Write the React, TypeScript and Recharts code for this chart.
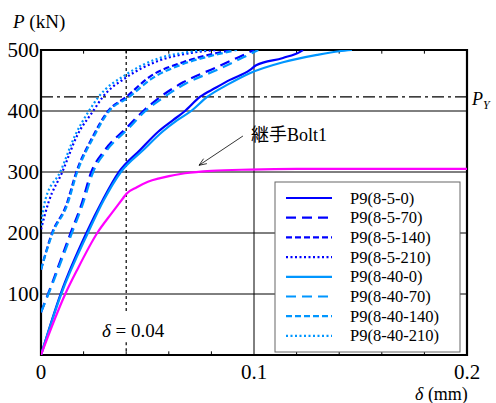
import { LineChart, Line, XAxis, YAxis, CartesianGrid, ReferenceLine, ReferenceArea } from 'recharts';

const deltaTicks = [0, 0.1, 0.2];
const loadTicks = [0, 100, 200, 300, 400, 500];
const minorDeltaTicks = [0.02, 0.04, 0.06, 0.08, 0.12, 0.14, 0.16, 0.18];
const yieldLoad = 423;
const markDelta = 0.04;

// [delta (mm), P (kN)]
const p85_0: [number, number][] = [
  [0, 0], [0.0092, 100], [0.0213, 200], [0.029, 254], [0.0366, 300], [0.0465, 336], [0.055, 366],
  [0.062, 385], [0.0676, 400], [0.0746, 423], [0.082, 438], [0.0887, 451], [0.098, 467], [0.101, 475],
  [0.1136, 487], [0.1216, 497], [0.123, 500],
];
const p85_70: [number, number][] = [
  [0, 70], [0.0033, 100], [0.0139, 200], [0.0189, 246], [0.0236, 300], [0.03, 336], [0.04, 372],
  [0.048, 400], [0.056, 423], [0.0667, 447], [0.0826, 472], [0.092, 487], [0.1, 500],
];
const p85_140: [number, number][] = [
  [0, 140], [0.0052, 200], [0.0119, 246], [0.0166, 300], [0.024, 356], [0.0315, 400], [0.04, 423],
  [0.051, 456], [0.0667, 480], [0.0826, 495], [0.09, 500],
];
const p85_210: [number, number][] = [
  [0, 206], [0.0035, 250], [0.01, 300], [0.017, 360], [0.0245, 400], [0.029, 423], [0.04, 455],
  [0.055, 482], [0.07, 495], [0.082, 500],
];
const p840_0: [number, number][] = [
  [0, 0], [0.0095, 100], [0.022, 200], [0.0295, 254], [0.0375, 300], [0.048, 336], [0.057, 366],
  [0.064, 385], [0.0705, 400], [0.078, 423], [0.088, 444], [0.098, 462], [0.1136, 480], [0.1296, 492],
  [0.14, 498], [0.146, 500],
];
const p840_70: [number, number][] = [
  [0, 70], [0.0035, 100], [0.0145, 200], [0.0195, 246], [0.0245, 300], [0.031, 336], [0.041, 371],
  [0.049, 400], [0.057, 421], [0.068, 445], [0.083, 468], [0.095, 488], [0.102, 500],
];
const p840_140: [number, number][] = [
  [0, 140], [0.0055, 200], [0.0123, 246], [0.017, 300], [0.0245, 356], [0.032, 400], [0.041, 422],
  [0.052, 453], [0.0667, 477], [0.083, 493], [0.092, 500],
];
const p840_210: [number, number][] = [
  [0, 212], [0.002, 254], [0.009, 300], [0.016, 360], [0.0225, 400], [0.027, 423], [0.04, 460],
  [0.055, 486], [0.068, 496], [0.078, 500],
];
const pBolt1: [number, number][] = [
  [0, 0], [0.0114, 100], [0.0169, 139], [0.0264, 200], [0.0333, 233], [0.0385, 257], [0.04, 264],
  [0.045, 275], [0.0502, 284], [0.056, 290], [0.0676, 298], [0.08, 302], [0.098, 304], [0.12, 305],
  [0.2, 305],
];
const boltArrow: [number, number][] = [[0.0948, 359], [0.0742, 311]];

const DARK = '#0000FF';
const LIGHT = '#0096FF';
const BOLT = '#FF00FF';
const SERIF = "'Liberation Serif', 'Times New Roman', Times, 'DejaVu Serif', serif";

const toPoints = (pairs: [number, number][]) => pairs.map(([d, p]) => ({ d, p }));

const series = [
  { name: 'P9(8-5-0)', data: p85_0, color: DARK, dash: undefined },
  { name: 'P9(8-5-70)', data: p85_70, color: DARK, dash: '10 6' },
  { name: 'P9(8-5-140)', data: p85_140, color: DARK, dash: '6 3' },
  { name: 'P9(8-5-210)', data: p85_210, color: DARK, dash: '2 2.5' },
  { name: 'P9(8-40-0)', data: p840_0, color: LIGHT, dash: undefined },
  { name: 'P9(8-40-70)', data: p840_70, color: LIGHT, dash: '10 6' },
  { name: 'P9(8-40-140)', data: p840_140, color: LIGHT, dash: '6 3' },
  { name: 'P9(8-40-210)', data: p840_210, color: LIGHT, dash: '2 2.5' },
];

function ArrowShape(props: any) {
  const { x1, y1, x2, y2 } = props;
  const ang = Math.atan2(y2 - y1, x2 - x1);
  const len = 8;
  const spread = 0.38;
  const ax = x2 - len * Math.cos(ang - spread);
  const ay = y2 - len * Math.sin(ang - spread);
  const bx = x2 - len * Math.cos(ang + spread);
  const by = y2 - len * Math.sin(ang + spread);
  return (
    <g stroke="#000" strokeWidth={0.8} fill="none">
      <line x1={x1} y1={y1} x2={x2} y2={y2} />
      <polyline points={`${ax},${ay} ${x2},${y2} ${bx},${by}`} />
    </g>
  );
}

function Overlay() {
  return (
    <svg
      width={496}
      height={403}
      style={{ position: 'absolute', left: 0, top: 0, pointerEvents: 'none', fontFamily: SERIF }}
    >
      <text x={13} y={28} fontSize={19} style={{ fontFamily: SERIF }}>
        <tspan fontStyle="italic">P</tspan> (kN)
      </text>
      <text x={415} y={400} fontSize={18} style={{ fontFamily: SERIF }}>
        <tspan fontStyle="italic">δ</tspan> (mm)
      </text>
      <text x={472} y={105} fontSize={18} style={{ fontFamily: SERIF }}>
        <tspan fontStyle="italic">P</tspan>
        <tspan fontStyle="italic" fontSize={12} dy={4}>Y</tspan>
      </text>
      <text x={251} y={141} fontSize={18} style={{ fontFamily: `${SERIF}, 'Noto Sans CJK JP'` }}>
        継手Bolt1
      </text>
      <text x={102} y={337} fontSize={19} style={{ fontFamily: SERIF }}>
        <tspan fontStyle="italic">δ</tspan> = 0.04
      </text>
      <g>
        <rect x={275} y={182} width={185} height={170} fill="#fff" stroke="#666" strokeWidth={1} />
        {series.map((s, i) => {
          const y = 198 + i * 19.7;
          return (
            <g key={s.name}>
              <line x1={286} x2={332} y1={y} y2={y} stroke={s.color} strokeWidth={2.2} strokeDasharray={s.dash} />
              <text x={350} y={y + 5.5} fontSize={16.5} style={{ fontFamily: SERIF }}>{s.name}</text>
            </g>
          );
        })}
      </g>
    </svg>
  );
}

export default function App() {
  const tickStyle = { fill: '#000', fontSize: 21, style: { fontFamily: SERIF } };
  return (
    <div style={{ position: 'absolute', left: 0, top: 0, width: 496, height: 403, background: '#fff', fontFamily: SERIF }}>
      <LineChart width={496} height={403} margin={{ top: 50, right: 29, bottom: 0, left: 0 }} style={{ fontFamily: SERIF }}>
        <CartesianGrid stroke="#000" strokeWidth={1} />
        <XAxis
          type="number"
          dataKey="d"
          domain={[0, 0.2]}
          ticks={deltaTicks}
          allowDataOverflow
          height={48}
          axisLine={false}
          tickSize={0}
          tickMargin={9}
          tick={tickStyle}
          tickFormatter={(v: number) => String(v)}
        />
        <YAxis
          type="number"
          dataKey="p"
          domain={[0, 500]}
          ticks={loadTicks}
          allowDataOverflow
          width={41}
          axisLine={false}
          tickSize={0}
          tickMargin={2}
          tick={tickStyle}
          tickFormatter={(v: number) => (v === 0 ? '' : String(v))}
        />
        <ReferenceLine
          y={yieldLoad}
          stroke="#000"
          strokeWidth={1.2}
          strokeDasharray="12 4 3 4"
        />
        <ReferenceLine
          segment={[{ x: markDelta, y: 500 }, { x: markDelta, y: 70 }]}
          stroke="#000"
          strokeWidth={1.2}
          strokeDasharray="3 3"
        />
        <ReferenceLine
          segment={[{ x: markDelta, y: 21 }, { x: markDelta, y: 0 }]}
          stroke="#000"
          strokeWidth={1.2}
          strokeDasharray="3 3"
        />
        {minorDeltaTicks.map((t) => (
          <ReferenceLine key={`b${t}`} segment={[{ x: t, y: 0 }, { x: t, y: 6 }]} stroke="#000" strokeWidth={1} />
        ))}
        {minorDeltaTicks.map((t) => (
          <ReferenceLine key={`t${t}`} segment={[{ x: t, y: 500 }, { x: t, y: 494 }]} stroke="#000" strokeWidth={1} />
        ))}
        {series.map((s) => (
          <Line
            key={s.name}
            data={toPoints(s.data)}
            dataKey="p"
            type="monotone"
            stroke={s.color}
            strokeWidth={2.2}
            strokeDasharray={s.dash}
            dot={false}
            isAnimationActive={false}
          />
        ))}
        <Line
          data={toPoints(pBolt1)}
          dataKey="p"
          type="monotone"
          stroke={BOLT}
          strokeWidth={2.2}
          dot={false}
          isAnimationActive={false}
        />
        <ReferenceLine
          segment={boltArrow.map(([x, y]) => ({ x, y }))}
          shape={ArrowShape}
        />
        <ReferenceArea x1={0} x2={0.2} y1={0} y2={500} fill="none" stroke="#000" strokeWidth={2.2} />
      </LineChart>
      <Overlay />
    </div>
  );
}
